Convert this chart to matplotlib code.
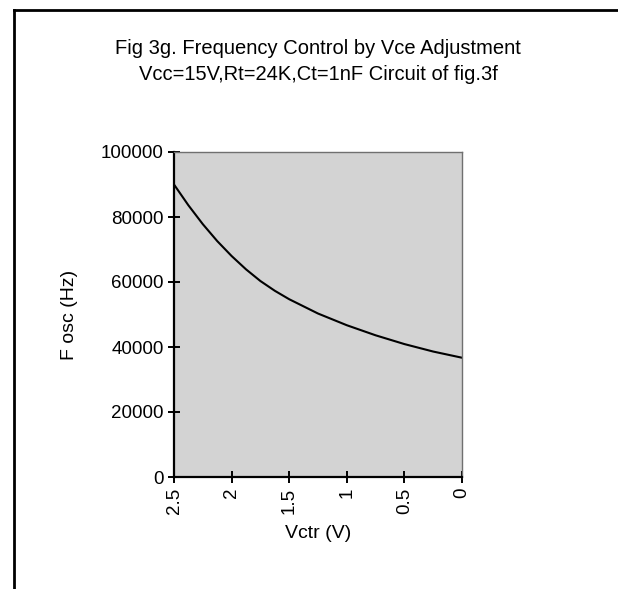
#!/usr/bin/env python3

# Oscillator frequency vs control voltage (fig 3g).

import matplotlib
matplotlib.use('agg')
import matplotlib.pyplot as plt
from matplotlib.lines import Line2D

vctr = [2.5, 2.375, 2.25, 2.125, 2.0, 1.875, 1.75, 1.625, 1.5,
        1.25, 1.0, 0.75, 0.5, 0.25, 0.0]
fosc = [90000, 83600, 77800, 72600, 68000, 63900, 60300, 57300, 54700,
        50300, 46700, 43600, 40900, 38600, 36700]

xticks = [2.5, 2, 1.5, 1, 0.5, 0]
xticklabels = ['2.5', '2', '1.5', '1', '0.5', '0']
yticks = [0, 20000, 40000, 60000, 80000, 100000]

plt.rcParams['font.family'] = ['Liberation Sans', 'DejaVu Sans']

fig = plt.figure(figsize=(6.18, 5.89), dpi=100)
ax = fig.add_axes([174 / 618, 1 - 477 / 589, 288 / 618, 325 / 589])
ax.set_facecolor('#d3d3d3')
ax.plot(vctr, fosc, color='black', lw=1.5)

ax.set_xlim(2.5, 0)
ax.set_ylim(0, 100000)
ax.set_xticks(xticks)
ax.set_xticklabels(xticklabels, rotation=90)
ax.set_yticks(yticks)
ax.set_yticklabels([str(t) for t in yticks])
ax.tick_params(direction='inout', length=9, width=1.4, labelsize=13.5, pad=3)

for side in ['top', 'right']:
    ax.spines[side].set_color('#707070')
    ax.spines[side].set_linewidth(1.0)
for side in ['left', 'bottom']:
    ax.spines[side].set_linewidth(1.6)

ax.set_xlabel('Vctr (V)', fontsize=14, labelpad=8)
ax.set_ylabel('F osc (Hz)', fontsize=14, labelpad=16)

fig.text(318 / 618, 1 - 48 / 589, 'Fig 3g. Frequency Control by Vce Adjustment',
         ha='center', va='center', fontsize=14.5)
fig.text(318 / 618, 1 - 74 / 589, 'Vcc=15V,Rt=24K,Ct=1nF Circuit of fig.3f',
         ha='center', va='center', fontsize=14.5)

# outer frame: top and left edges only
fig.add_artist(Line2D([14 / 618, 1], [1 - 10 / 589, 1 - 10 / 589], color='black', lw=2))
fig.add_artist(Line2D([14 / 618, 14 / 618], [0, 1 - 10 / 589], color='black', lw=2))

fig.savefig('out.png')
